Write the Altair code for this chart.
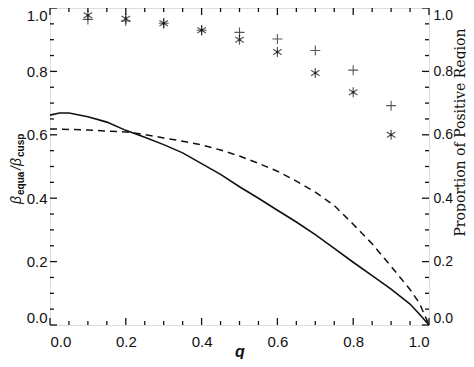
import altair as alt
import pandas as pd

# ---------------- data ----------------
q_curve = [0.0, 0.025, 0.05, 0.1, 0.15, 0.2, 0.25, 0.3, 0.35, 0.4, 0.45, 0.5,
           0.55, 0.6, 0.65, 0.7, 0.75, 0.8, 0.85, 0.9, 0.95, 0.975, 1.0]
solid_vals = [0.662, 0.669, 0.669, 0.657, 0.640, 0.614, 0.592, 0.569, 0.543, 0.509,
              0.475, 0.436, 0.400, 0.362, 0.325, 0.285, 0.242, 0.198, 0.156, 0.113,
              0.066, 0.034, 0.0]
dashed_vals = [0.618, 0.618, 0.617, 0.615, 0.612, 0.609, 0.601, 0.590, 0.580, 0.568,
               0.552, 0.533, 0.510, 0.485, 0.454, 0.419, 0.377, 0.318, 0.256, 0.185,
               0.112, 0.068, 0.0]

q_pts = [0.1, 0.2, 0.3, 0.4, 0.5, 0.6, 0.7, 0.8, 0.9]
plus_vals = [0.964, 0.959, 0.952, 0.930, 0.923, 0.902, 0.866, 0.804, 0.692]
star_vals = [0.977, 0.966, 0.952, 0.930, 0.900, 0.861, 0.795, 0.734, 0.600]

major_ticks = [0.0, 0.2, 0.4, 0.6, 0.8, 1.0]
minor_ticks = [0.05, 0.1, 0.15, 0.25, 0.3, 0.35, 0.45, 0.5, 0.55, 0.65, 0.7, 0.75,
               0.85, 0.9, 0.95]

right_title = "Proportion of Positive Region"

# ---------------- layout ----------------
W, H = 379, 317
MAJ, MIN = 7, 4
FONT = "Liberation Sans"
INK = "#111111"

xs = alt.Scale(domain=[0, 1], nice=False, zero=False)
ys = alt.Scale(domain=[0, 1], nice=False, zero=False)

curve_df = pd.DataFrame({"q": q_curve, "solid": solid_vals, "dashed": dashed_vals})
pts_df = pd.DataFrame({"q": q_pts, "plus": plus_vals, "star": star_vals})

left_axis = alt.Axis(orient="left", values=major_ticks, format=".1f", title=None,
                     ticks=False, tickSize=0, domain=False, grid=False,
                     labelPadding=3, labelFont=FONT, labelFontSize=15,
                     labelColor=INK, labelFlush=True)
right_axis = alt.Axis(orient="right", values=major_ticks, format=".1f",
                      title=right_title, ticks=False, tickSize=0, domain=False,
                      grid=False, labelPadding=4, labelFont=FONT, labelFontSize=14,
                      labelColor=INK, labelFlush=True,
                      titleFont="DejaVu Serif", titleFontSize=14,
                      titleFontWeight="normal", titleColor=INK, titleAngle=270,
                      titleX=31, titleY=124, titleAlign="center",
                      titleBaseline="middle")
bottom_axis = alt.Axis(orient="bottom", values=major_ticks, format=".1f", title="q",
                       ticks=False, tickSize=0, domain=False, grid=False,
                       labelPadding=9, labelFont=FONT, labelFontSize=15,
                       labelColor=INK, titleFont=FONT, titleFontSize=16,
                       titleFontStyle="italic", titleFontWeight="bold",
                       titleColor=INK, titleBaseline="alphabetic", titleY=31,
                       titleX=W / 2, titleAlign="center")

base_c = alt.Chart(curve_df)
solid = base_c.mark_line(color=INK, strokeWidth=1.6).encode(
    x=alt.X("q:Q", scale=xs, axis=bottom_axis),
    y=alt.Y("solid:Q", scale=ys, axis=left_axis),
)
dashed = base_c.mark_line(color=INK, strokeWidth=1.5, strokeDash=[7, 5]).encode(
    x=alt.X("q:Q", scale=xs, axis=None),
    y=alt.Y("dashed:Q", scale=ys, axis=None),
)

base_p = alt.Chart(pts_df)
plus = base_p.mark_point(shape="M-1,0L1,0M0,-1L0,1", size=100, filled=False,
                         color=INK, strokeWidth=1.1).encode(
    x=alt.X("q:Q", scale=xs, axis=None),
    y=alt.Y("plus:Q", scale=ys, axis=right_axis),
)
star = base_p.mark_point(shape="M0,-1L0,1M-0.85,-0.55L0.85,0.55M-0.85,0.55L0.85,-0.55",
                         size=100, filled=False, color=INK, strokeWidth=1.2).encode(
    x=alt.X("q:Q", scale=xs, axis=None),
    y=alt.Y("star:Q", scale=ys, axis=None),
)
star_dot = base_p.mark_point(shape="circle", size=7, filled=True, color=INK).encode(
    x=alt.X("q:Q", scale=xs, axis=None),
    y=alt.Y("star:Q", scale=ys, axis=None),
)


def tick_layers(vals, length):
    df = pd.DataFrame({"v": vals})
    c = alt.Chart(df).mark_rule(color=INK, strokeWidth=1.3)
    left = c.encode(y=alt.Y("v:Q", scale=ys, axis=None),
                    x=alt.value(0), x2=alt.value(length))
    right = c.encode(y=alt.Y("v:Q", scale=ys, axis=None),
                     x=alt.value(W - length), x2=alt.value(W))
    bottom = c.encode(x=alt.X("v:Q", scale=xs, axis=None),
                      y=alt.value(H), y2=alt.value(H - length))
    top = c.encode(x=alt.X("v:Q", scale=xs, axis=None),
                   y=alt.value(0), y2=alt.value(length))
    return [left, right, bottom, top]


ticks = tick_layers(major_ticks, MAJ) + tick_layers(minor_ticks, MIN)

# left title: beta_equa / beta_cusp built from pieces (rotated, reading upward)
one = pd.DataFrame({"a": [0]})
pieces = [
    ("β", -29, 196, 14, "normal", "italic"),
    ("equa", -26, 187, 10, "bold", "normal"),
    ("/β", -29, 162, 14, "normal", "italic"),
    ("cusp", -26, 149, 10, "bold", "normal"),
]
title_layers = []
for txt, px, py, fs, fw, fst in pieces:
    title_layers.append(
        alt.Chart(one).mark_text(text=txt, angle=270, align="left",
                                 baseline="alphabetic", font=FONT, fontSize=fs,
                                 fontWeight=fw, fontStyle=fst, color=INK)
        .encode(x=alt.value(px), y=alt.value(py))
    )

chart = alt.layer(
    *ticks, dashed, solid, plus, star, star_dot, *title_layers
).resolve_axis(x="independent", y="independent").properties(
    width=W, height=H,
    autosize=alt.AutoSizeParams(type="none"),
    padding={"left": 42, "top": 0, "right": 37, "bottom": 34},
).configure_view(stroke=INK, strokeWidth=1.6).configure(background="white")

chart.save("out.html", embed_options={"renderer": "svg", "actions": False})
